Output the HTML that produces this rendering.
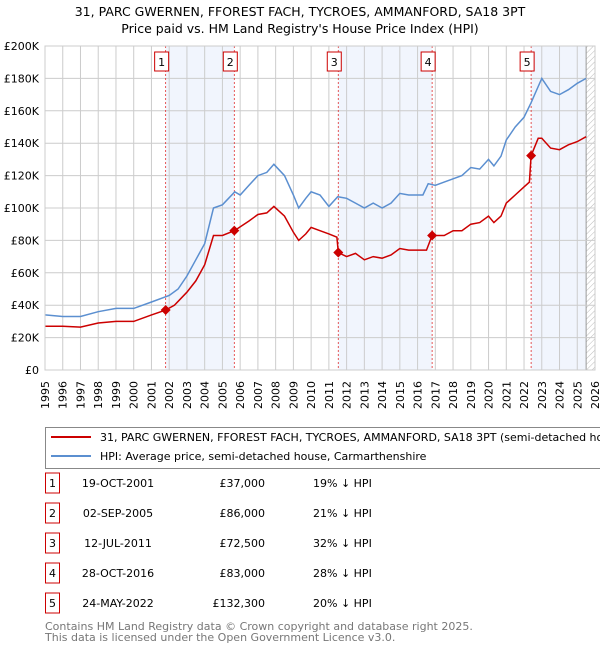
<!DOCTYPE html>
<html><head><meta charset="utf-8"><style>
body{margin:0;background:#fff;font-family:"DejaVu Sans","Liberation Sans",sans-serif;}
svg text{font-family:"DejaVu Sans","Liberation Sans",sans-serif;}
</style></head><body>
<svg id="c" width="600" height="650" xmlns="http://www.w3.org/2000/svg">
<text x="300" y="16" text-anchor="middle" font-size="12.5">31, PARC GWERNEN, FFOREST FACH, TYCROES, AMMANFORD, SA18 3PT</text>
<text x="300" y="33" text-anchor="middle" font-size="12.5">Price paid vs. HM Land Registry's House Price Index (HPI)</text>
<g id="plot"></g>
<g>
<rect x="45.5" y="427.5" width="560" height="41" fill="#fff" stroke="#888"/>
<line x1="51" y1="437" x2="91" y2="437" stroke="#cc0000" stroke-width="2"/>
<text x="100" y="441" font-size="11">31, PARC GWERNEN, FFOREST FACH, TYCROES, AMMANFORD, SA18 3PT (semi-detached house)</text>
<line x1="51" y1="456" x2="91" y2="456" stroke="#5b8fd0" stroke-width="2"/>
<text x="100" y="460" font-size="11">HPI: Average price, semi-detached house, Carmarthenshire</text>
</g>
<g id="table" font-size="11"></g>
<text x="45" y="630" font-size="11" fill="#777">Contains HM Land Registry data © Crown copyright and database right 2025.</text>
<text x="45" y="641" font-size="11" fill="#777">This data is licensed under the Open Government Licence v3.0.</text>
</svg>
<script>
const hpiX=[1995,1996,1997,1998,1999,2000,2001,2002,2002.5,2003,2003.5,2004,2004.5,2005,2005.7,2006,2006.5,2007,2007.5,2007.9,2008.5,2009,2009.3,2009.7,2010,2010.5,2011,2011.5,2012,2012.5,2013,2013.5,2014,2014.5,2015,2015.5,2016,2016.3,2016.6,2017,2017.5,2018,2018.5,2019,2019.5,2020,2020.3,2020.7,2021,2021.5,2022,2022.4,2022.8,2023,2023.5,2024,2024.5,2025,2025.5];
const hpiY=[34,33,33,36,38,38,42,46,50,58,68,78,100,102,110,108,114,120,122,127,120,108,100,106,110,108,101,107,106,103,100,103,100,103,109,108,108,108,115,114,116,118,120,125,124,130,126,132,142,150,156,165,175,180,172,170,173,177,180];
const priceX=[1995,1996,1997,1998,1999,2000,2001,2001.8,2002.3,2003,2003.5,2004,2004.5,2005,2005.67,2006.5,2007,2007.5,2007.9,2008.5,2009,2009.3,2009.7,2010,2010.5,2011,2011.45,2011.53,2012,2012.5,2013,2013.5,2014,2014.5,2015,2015.5,2016,2016.5,2016.82,2017.5,2018,2018.5,2019,2019.5,2020,2020.3,2020.7,2021,2021.5,2022,2022.3,2022.4,2022.8,2023,2023.5,2024,2024.5,2025,2025.5];
const priceY=[27,27,26.5,29,30,30,34,37,40,48,55,65,83,83,86,92,96,97,101,95,85,80,84,88,86,84,82,72.5,70,72,68,70,69,71,75,74,74,74,83,83,86,86,90,91,95,91,95,103,108,113,116,132.3,143,143,137,136,139,141,144];
const saleX=[2001.8,2005.67,2011.53,2016.82,2022.4];
const saleY=[37,86,72.5,83,132.3];
const saleDates=["19-OCT-2001","02-SEP-2005","12-JUL-2011","28-OCT-2016","24-MAY-2022"];
const salePrices=["£37,000","£86,000","£72,500","£83,000","£132,300"];
const saleHpi=["19% ↓ HPI","21% ↓ HPI","32% ↓ HPI","28% ↓ HPI","20% ↓ HPI"];
const yTicks=[0,20,40,60,80,100,120,140,160,180,200];
const yTickLabels=["£0","£20K","£40K","£60K","£80K","£100K","£120K","£140K","£160K","£180K","£200K"];
const L=45,R=595,T=46,B=370;
const X=v=>L+(v-1995)/31*(R-L), Y=v=>B-v/200*(B-T);
const NS="http://www.w3.org/2000/svg";
function mk(p,t,a){const e=document.createElementNS(NS,t);for(const k in a)e.setAttribute(k,a[k]);p.appendChild(e);return e;}
const g=document.getElementById('plot');
const bands=[[0,1],[2,3],[4,null]];
bands.forEach(b=>{const x1=X(saleX[b[0]]),x2=b[1]===null?X(2025.5):X(saleX[b[1]]);
 const r=mk(g,'rect',{x:x1,y:T,width:x2-x1,height:B-T,fill:'#eef3fc',opacity:0.8});
 
 });
const defs=mk(g,'defs',{});const pat=mk(defs,'pattern',{id:'h',width:4,height:4,patternUnits:'userSpaceOnUse',patternTransform:'rotate(45)'});
mk(pat,'line',{x1:0,y1:0,x2:0,y2:4,stroke:'#bbb','stroke-width':1});
const hr=mk(g,'rect',{x:X(2025.5),y:T,width:R-X(2025.5),height:B-T,fill:'url(#h)'});


mk(g,'line',{x1:X(2025.5),y1:T,x2:X(2025.5),y2:B,stroke:'#999'});
for(let yr=1995;yr<=2026;yr++){const x=X(yr);
 mk(g,'line',{x1:x,y1:T,x2:x,y2:B,stroke:'#ccc'});
 const t=mk(g,'text',{x:x+4,y:381,'text-anchor':'end','font-size':11,transform:`rotate(-90 ${x+4} 381)`});t.textContent=yr;
 
 }
yTicks.forEach((v,i)=>{const y=Y(v);
 mk(g,'line',{x1:L,y1:y,x2:R,y2:y,stroke:'#ccc'});
 const t=mk(g,'text',{x:39,y:y+4,'text-anchor':'end','font-size':11});t.textContent=yTickLabels[i];
 
 });
saleX.forEach((v,i)=>{const x=X(v);
 mk(g,'line',{x1:x,y1:T,x2:x,y2:B,stroke:'#e03030','stroke-dasharray':'2,2','stroke-width':0.8});
 const bx=mk(g,'rect',{x:x-11,y:52,width:14,height:19,fill:'#fff',stroke:'#cc0000'});
 
 
 const t=mk(g,'text',{x:x-4,y:66,'text-anchor':'middle','font-size':11});t.textContent=i+1;});
function line(xs,ys,c,n){const d=xs.map((v,i)=>(i?'L':'M')+X(v).toFixed(1)+','+Y(ys[i]).toFixed(1)).join('');
 const p=mk(g,'path',{d:d,fill:'none',stroke:c,'stroke-width':1.5});
 
 }
line(hpiX,hpiY,'#5b8fd0','hpi-line');
line(priceX,priceY,'#cc0000','price-line');
saleX.forEach((v,i)=>{const x=X(v),y=Y(saleY[i]);
 const d=mk(g,'path',{d:`M${x},${y-5}L${x+5},${y}L${x},${y+5}L${x-5},${y}Z`,fill:'#cc0000'});
 
 });
mk(g,'rect',{x:L,y:T,width:R-L,height:B-T,fill:'none',stroke:'#ccc'});
const tb=document.getElementById('table');
saleDates.forEach((s,i)=>{const y=483+i*30;
 const r=mk(tb,'rect',{x:45.5,y:y-10,width:14,height:20,fill:'#fff',stroke:'#cc0000'});
 
 
 let t=mk(tb,'text',{x:52.5,y:y+4,'text-anchor':'middle'});t.textContent=i+1;
 t=mk(tb,'text',{x:118,y:y+4,'text-anchor':'middle'});t.textContent=s;
 
 
 t=mk(tb,'text',{x:265,y:y+4,'text-anchor':'end'});t.textContent=salePrices[i];
 
 
 t=mk(tb,'text',{x:313,y:y+4});t.textContent=saleHpi[i];
 
 });
</script>
</body></html>
